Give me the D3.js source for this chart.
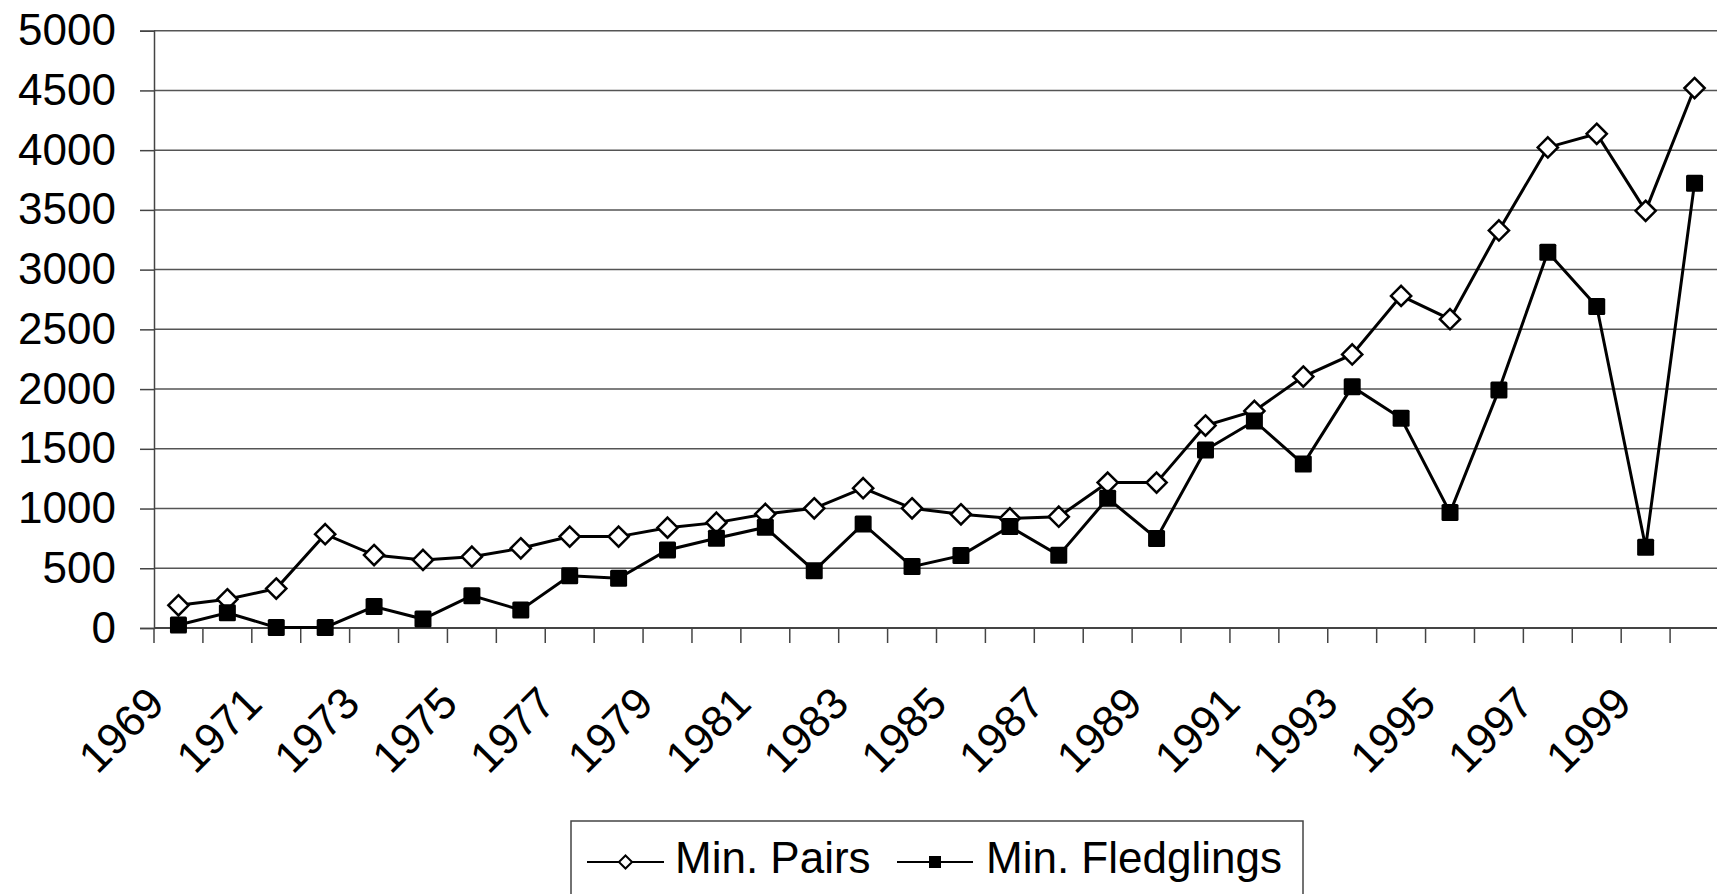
<!DOCTYPE html>
<html lang="en">
	<head>
		<meta charset="utf-8">
		<title>Min. Pairs and Min. Fledglings</title>
		<script src="https://d3js.org/d3.v7.min.js"></script>
		<style type="text/css">
			body { margin: 0; background: #fff; }
			text { font-family: "Liberation Sans", Arial, sans-serif; fill: #000; }
		</style>
	</head>

	<body>
		<script type="text/javascript">
			// window setup
			var w = 1717
			var h = 894

			// data
			var years = d3.range(1969, 2001)
			var pairs = [190, 240, 330, 785, 611, 570, 597, 667, 765, 765,
						840, 882, 955, 1002, 1170, 1002, 952, 918, 932, 1217,
						1217, 1695, 1817, 2105, 2290, 2780, 2585, 3328, 4023, 4137,
						3492, 4520]
			var fledglings = [25, 128, 5, 5, 179, 75, 271, 151, 438, 416,
						653, 751, 843, 480, 871, 514, 606, 849, 608, 1086,
						750, 1490, 1733, 1372, 2020, 1756, 966, 1993, 3146, 2691,
						676, 3724]
			var yTicks = [0, 500, 1000, 1500, 2000, 2500, 3000, 3500, 4000, 4500, 5000]
			var seriesNames = ["Min. Pairs", "Min. Fledglings"]

			// scales
			var x = d3.scaleBand()
						.domain(years)
						.range([154, 1719])
			var y = d3.scaleLinear()
						.domain([0, 5000])
						.range([628, 30.7])

			var svg = d3.select("body")
						.append("svg")
						.attr("width", w)
						.attr("height", h)

			// grid lines
			svg.selectAll("line.grid")
				.data(yTicks.slice(1))
				.enter()
				.append("line")
				.attr("class", "grid")
				.attr("x1", 154)
				.attr("x2", w)
				.attr("y1", function(d) { return y(d) })
				.attr("y2", function(d) { return y(d) })
				.style("stroke", "#555")
				.style("stroke-width", 1.5)

			// y axis
			var yAxis = d3.axisLeft(y)
							.tickValues(yTicks)
							.tickFormat(d3.format("d"))
							.tickSize(14)
							.tickPadding(24)
			var gy = svg.append("g")
						.attr("transform", "translate(154,0)")
						.call(yAxis)
			gy.select(".domain").style("stroke", "#444").style("stroke-width", 1.5)
			gy.selectAll(".tick line").style("stroke", "#444").style("stroke-width", 1.5)
			gy.selectAll(".tick text")
				.style("font-size", "44px")
				.style("font-family", "'Liberation Sans', Arial, sans-serif")
				.attr("fill", "#000")

			// x axis: ticks sit between categories
			var boundaries = years.map(function(d) { return x(d) })
			var gx = svg.append("g")
			gx.append("line")
				.attr("x1", 154).attr("x2", w)
				.attr("y1", y(0)).attr("y2", y(0))
				.style("stroke", "#444")
				.style("stroke-width", 2)
			gx.selectAll("line.xt")
				.data(boundaries)
				.enter()
				.append("line")
				.attr("class", "xt")
				.attr("x1", function(d) { return d })
				.attr("x2", function(d) { return d })
				.attr("y1", y(0))
				.attr("y2", y(0) + 15)
				.style("stroke", "#444")
				.style("stroke-width", 1.5)

			gx.selectAll("text")
				.data(years.filter(function(d, i) { return i % 2 == 0 }))
				.enter()
				.append("text")
				.attr("text-anchor", "end")
				.style("font-size", "44px")
				.attr("transform", function(d) {
					var cx = x(d) + x.bandwidth() / 2
					return "translate(" + (cx - 12) + ",706) rotate(-45)"
				})
				.text(function(d) { return d })

			// lines
			var line = d3.line()
						.x(function(d, i) { return x(years[i]) + x.bandwidth() / 2 })
						.y(function(d) { return y(d) })

			svg.append("path")
				.datum(pairs)
				.attr("d", line)
				.style("fill", "none")
				.style("stroke", "#000")
				.style("stroke-width", 3)

			svg.append("path")
				.datum(fledglings)
				.attr("d", line)
				.style("fill", "none")
				.style("stroke", "#000")
				.style("stroke-width", 3)

			// markers
			var diamond = d3.symbol().type(d3.symbolDiamond2).size(260)
			svg.selectAll("path.pm")
				.data(pairs)
				.enter()
				.append("path")
				.attr("class", "pm")
				.attr("d", diamond)
				.attr("transform", function(d, i) {
					return "translate(" + (x(years[i]) + x.bandwidth() / 2) + "," + y(d) + ")"
				})
				.style("fill", "#fff")
				.style("stroke", "#000")
				.style("stroke-width", 2.5)

			svg.selectAll("rect.fm")
				.data(fledglings)
				.enter()
				.append("rect")
				.attr("class", "fm")
				.attr("x", function(d, i) { return x(years[i]) + x.bandwidth() / 2 - 8.5 })
				.attr("y", function(d) { return y(d) - 8.5 })
				.attr("width", 17)
				.attr("height", 17)
				.attr("rx", 1.5)
				.style("fill", "#000")

			// legend
			var legend = svg.append("g")
			legend.append("rect")
				.attr("x", 571)
				.attr("y", 821)
				.attr("width", 732)
				.attr("height", 100)
				.style("fill", "#fff")
				.style("stroke", "#444")
				.style("stroke-width", 1.5)

			var legendItems = [
				{ name: seriesNames[0], x0: 587, x1: 664, tx: 675 },
				{ name: seriesNames[1], x0: 897, x1: 973, tx: 986 }
			]
			legendItems.forEach(function(d, i) {
				legend.append("line")
					.attr("x1", d.x0).attr("x2", d.x1)
					.attr("y1", 862).attr("y2", 862)
					.style("stroke", "#000")
					.style("stroke-width", 2)
				var cx = (d.x0 + d.x1) / 2
				if (i == 0) {
					legend.append("path")
						.attr("d", d3.symbol().type(d3.symbolDiamond2).size(110))
						.attr("transform", "translate(" + cx + ",862)")
						.style("fill", "#fff")
						.style("stroke", "#000")
						.style("stroke-width", 2)
				} else {
					legend.append("rect")
						.attr("x", cx - 6).attr("y", 856)
						.attr("width", 12).attr("height", 12)
						.style("fill", "#000")
				}
				legend.append("text")
					.attr("x", d.tx)
					.attr("y", 873)
					.style("font-size", "44px")
					.text(d.name)
			})
		</script>
	</body>
</html>
